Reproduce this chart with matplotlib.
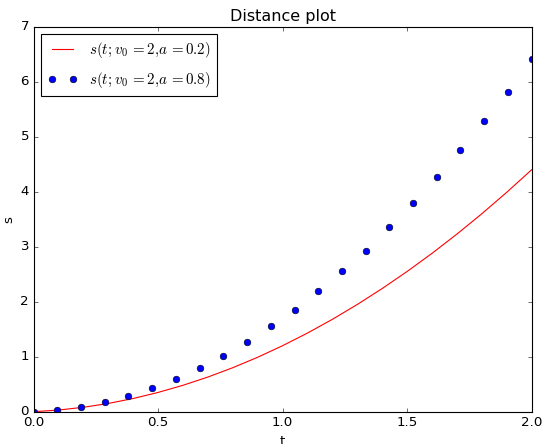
import matplotlib
matplotlib.use('Agg')
import matplotlib.pyplot as plt

plt.style.use('classic')

# values
t_line = [0.0, 0.1, 0.2, 0.3, 0.4, 0.5, 0.6, 0.7, 0.8, 0.9, 1.0,
          1.1, 1.2, 1.3, 1.4, 1.5, 1.6, 1.7, 1.8, 1.9, 2.0]
s_line = [0.0, 0.03, 0.08, 0.15, 0.24, 0.35, 0.48, 0.63, 0.80, 0.99, 1.20,
          1.43, 1.68, 1.95, 2.24, 2.55, 2.88, 3.23, 3.60, 3.99, 4.40]

t_dots = [0.0, 0.095, 0.19, 0.286, 0.381, 0.476, 0.571, 0.667, 0.762, 0.857, 0.952,
          1.048, 1.143, 1.238, 1.333, 1.429, 1.524, 1.619, 1.714, 1.81, 1.905, 2.0]
s_dots = [0.0, 0.03, 0.09, 0.18, 0.29, 0.43, 0.60, 0.80, 1.02, 1.27, 1.55,
          1.85, 2.19, 2.55, 2.93, 3.35, 3.79, 4.26, 4.76, 5.29, 5.82, 6.41]

# old-style mathtext spacing: gap before '=', none after ',' or ';'
label_a = r'$s(t{;}v_0\,{=}2{,}a\,{=}0.2)$'
label_b = r'$s(t{;}v_0\,{=}2{,}a\,{=}0.8)$'

fig = plt.figure(figsize=(542 / 80, 444 / 80), dpi=80, facecolor='white')
ax = fig.add_axes([33.5 / 542, 32.3 / 444, 498.2 / 542, 385 / 444])

ax.plot(t_line, s_line, 'r-', label=label_a)
ax.plot(t_dots, s_dots, 'bo', label=label_b)

ax.set_xlim(0, 2)
ax.set_ylim(0, 7)
ax.set_xlabel('t')
ax.set_ylabel('s')
ax.set_title('Distance plot')
ax.legend(loc='upper left', fontsize=13.5, labelspacing=0.65)

fig.savefig('out.png', dpi=80, facecolor='white')
